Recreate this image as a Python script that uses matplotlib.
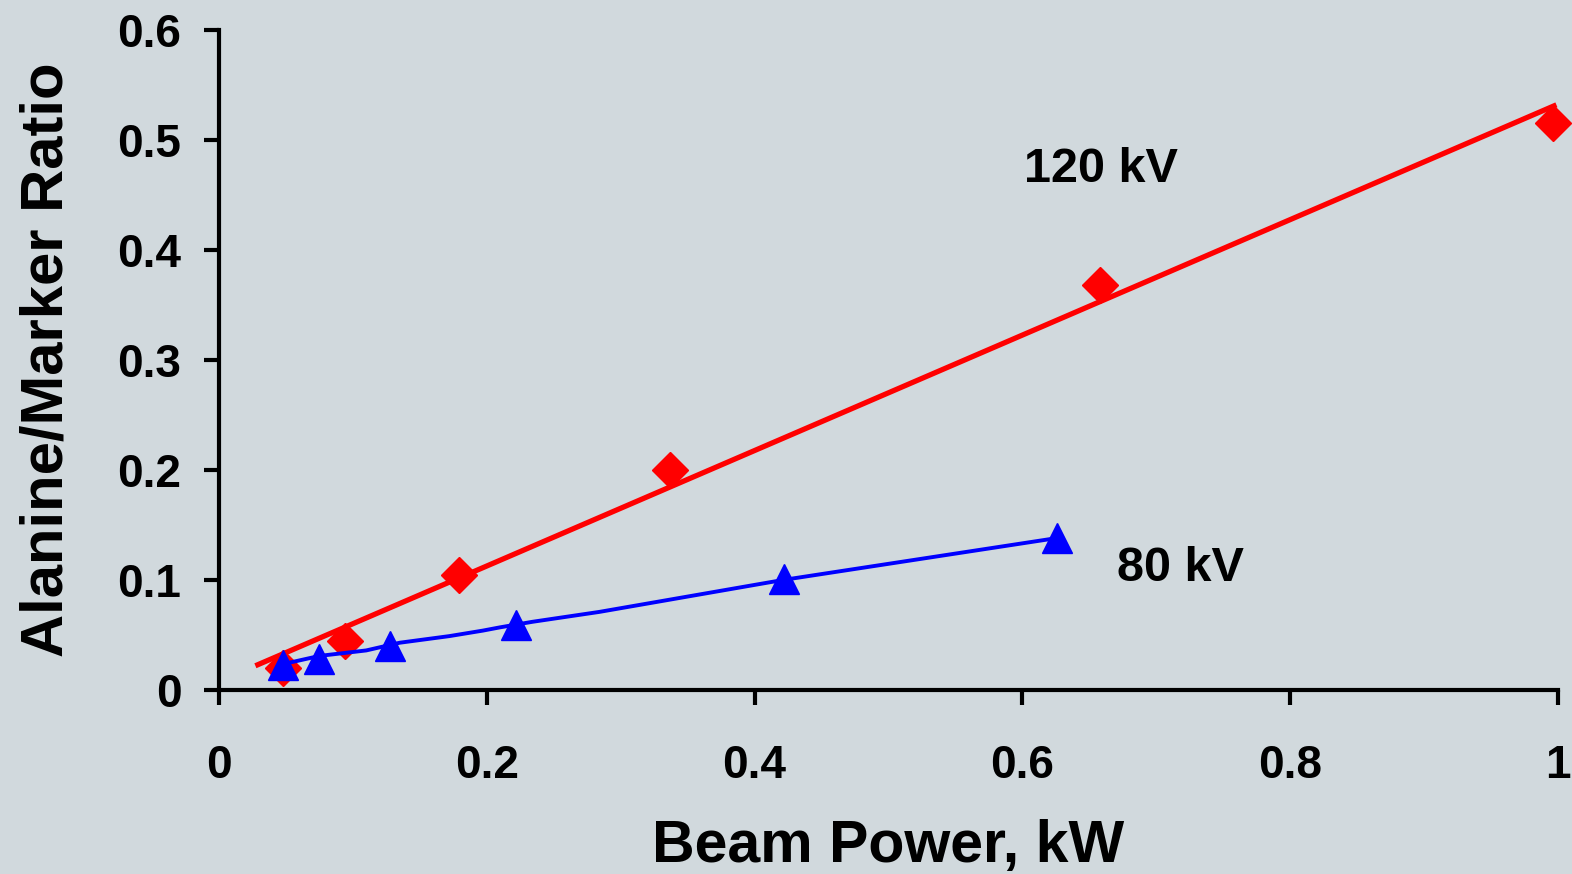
import matplotlib
matplotlib.use("Agg")
import matplotlib.pyplot as plt

# measured points
kv120_x = [0.048, 0.094, 0.179, 0.337, 0.658, 0.996]
kv120_y = [0.020, 0.045, 0.105, 0.200, 0.368, 0.515]
kv80_x = [0.048, 0.075, 0.128, 0.222, 0.422, 0.626]
kv80_y = [0.023, 0.028, 0.040, 0.059, 0.101, 0.138]

# trend lines as drawn
trend120_x = [0.029, 0.997]
trend120_y = [0.023, 0.531]
trend80_x = [0.048, 0.075, 0.110, 0.135, 0.172, 0.197, 0.210, 0.234, 0.284, 0.421, 0.625]
trend80_y = [0.0236, 0.031, 0.036, 0.043, 0.049, 0.054, 0.057, 0.062, 0.071, 0.100, 0.138]

xticks = [0, 0.2, 0.4, 0.6, 0.8, 1]
xticklabels = ["0", "0.2", "0.4", "0.6", "0.8", "1"]
yticks = [0, 0.1, 0.2, 0.3, 0.4, 0.5, 0.6]
yticklabels = ["0", "0.1", "0.2", "0.3", "0.4", "0.5", "0.6"]

BG = "#d1d9dd"
plt.rcParams.update({"font.family": ["Liberation Sans", "DejaVu Sans"], "font.weight": "bold"})

fig = plt.figure(figsize=(15.72, 8.74), dpi=100, facecolor=BG)
ax = fig.add_axes([0.1393, 0.2105, 0.8518, 0.7552], facecolor=BG)

ax.plot(kv120_x, kv120_y, linestyle="none", marker="D", ms=18.5, color="#ff0000", clip_on=False, zorder=3)
ax.plot(trend120_x, trend120_y, color="#ff0000", lw=3.8, clip_on=False, zorder=3)
ax.plot(kv80_x, kv80_y, linestyle="none", marker="^", ms=22, color="#0000ff", clip_on=False, zorder=4)
ax.plot(trend80_x, trend80_y, color="#0000ff", lw=2.8, clip_on=False, zorder=4)

ax.text(0.601, 0.462, "120 kV", fontsize=35, fontweight="bold")
ax.text(0.671, 0.0995, "80 kV", fontsize=35, fontweight="bold")

ax.set_xlim(0, 1)
ax.set_ylim(0, 0.6)
ax.set_xticks(xticks)
ax.set_xticklabels(xticklabels)
ax.set_yticks(yticks)
ax.set_yticklabels(yticklabels)
for s in ("top", "right"):
    ax.spines[s].set_visible(False)
for s in ("left", "bottom"):
    ax.spines[s].set_linewidth(3)
ax.tick_params(axis="both", direction="out", length=11, width=3, labelsize=33)
ax.tick_params(axis="x", pad=28)
ax.tick_params(axis="y", pad=16)

ax.set_xlabel("Beam Power, kW", fontsize=42.5, fontweight="bold", labelpad=22)
ax.set_ylabel("Alanine/Marker Ratio", fontsize=43, fontweight="bold", labelpad=31)

fig.savefig("out.png", dpi=100, facecolor=BG)
